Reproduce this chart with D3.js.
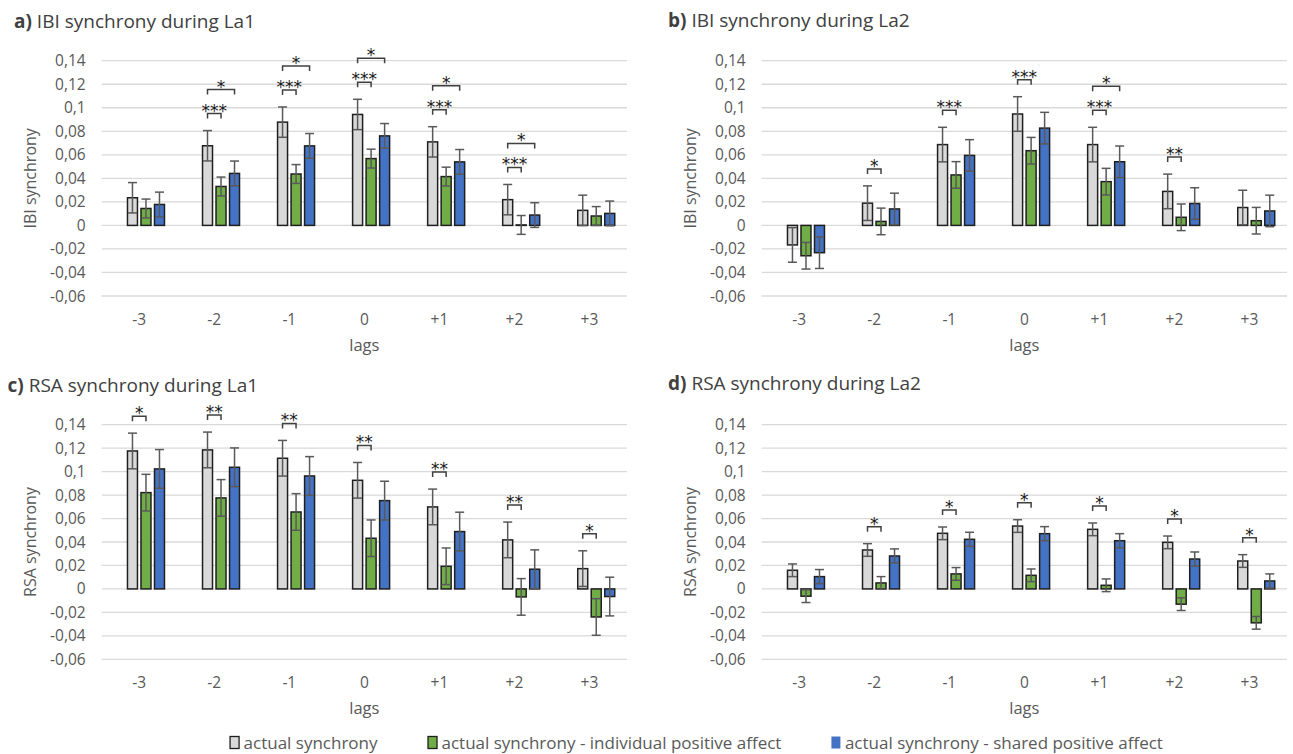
<!DOCTYPE html>
<html>
<head>
<meta charset="utf-8">
<script src="https://cdn.jsdelivr.net/npm/d3@7"></script>
<style>
  body { margin: 0; background: #fff; }
  svg { display: block; font-family: "Open Sans", "Noto Sans", sans-serif; }
</style>
</head>
<body>
<svg id="chart" width="1293" height="754"></svg>
<script>
// categories / ticks
const lags = ["-3", "-2", "-1", "0", "+1", "+2", "+3"];
const yTicks = [-0.06, -0.04, -0.02, 0, 0.02, 0.04, 0.06, 0.08, 0.1, 0.12, 0.14];
const seriesNames = ["actual synchrony", "actual synchrony - individual positive affect", "actual synchrony - shared positive affect"];
const seriesColors = ["#d9d9d9", "#70ad47", "#4472c4"];

// a) IBI synchrony during La1
const ibiLa1Actual = [0.0235, 0.0677, 0.0878, 0.0943, 0.0710, 0.0219, 0.0128];
const ibiLa1Indiv  = [0.0144, 0.0331, 0.0437, 0.0568, 0.0415, 0.0004, 0.0080];
const ibiLa1Shared = [0.0178, 0.0442, 0.0676, 0.0761, 0.0540, 0.0088, 0.0102];
const ibiLa1Err    = [0.0129, 0.0080, 0.0105];
const ibiLa1Sig = [
  ["-2", 1, "***"], ["-2", 2, "*"],
  ["-1", 1, "***"], ["-1", 2, "*"],
  ["0", 1, "***"], ["0", 2, "*"],
  ["+1", 1, "***"], ["+1", 2, "*"],
  ["+2", 1, "***"], ["+2", 2, "*"]
];

// b) IBI synchrony during La2
const ibiLa2Actual = [-0.0166, 0.0189, 0.0687, 0.0947, 0.0687, 0.0289, 0.0152];
const ibiLa2Indiv  = [-0.0258, 0.0034, 0.0429, 0.0635, 0.0372, 0.0069, 0.0040];
const ibiLa2Shared = [-0.0232, 0.0140, 0.0595, 0.0827, 0.0541, 0.0186, 0.0123];
const ibiLa2Err    = [0.0147, 0.0113, 0.0134];
const ibiLa2Sig = [
  ["-2", 1, "*"], ["-1", 1, "***"], ["0", 1, "***"],
  ["+1", 1, "***"], ["+1", 2, "*"], ["+2", 1, "**"]
];

// c) RSA synchrony during La1
const rsaLa1Actual = [0.1176, 0.1185, 0.1114, 0.0926, 0.0699, 0.0418, 0.0173];
const rsaLa1Indiv  = [0.0821, 0.0776, 0.0656, 0.0432, 0.0193, -0.0068, -0.0239];
const rsaLa1Shared = [0.1023, 0.1037, 0.0963, 0.0753, 0.0489, 0.0168, -0.0065];
const rsaLa1Err    = [0.0152, 0.0156, 0.0165];
const rsaLa1Sig = [
  ["-3", 1, "*"], ["-2", 1, "**"], ["-1", 1, "**"], ["0", 1, "**"],
  ["+1", 1, "**"], ["+2", 1, "**"], ["+3", 1, "*"]
];

// d) RSA synchrony during La2
const rsaLa2Actual = [0.0159, 0.0332, 0.0474, 0.0536, 0.0508, 0.0397, 0.0238];
const rsaLa2Indiv  = [-0.0062, 0.0051, 0.0128, 0.0116, 0.0031, -0.0130, -0.0289];
const rsaLa2Shared = [0.0105, 0.0281, 0.0423, 0.0471, 0.0411, 0.0255, 0.0068];
const rsaLa2Err    = [0.0054, 0.0054, 0.0060];
const rsaLa2Sig = [
  ["-2", 1, "*"], ["-1", 1, "*"], ["0", 1, "*"],
  ["+1", 1, "*"], ["+2", 1, "*"], ["+3", 1, "*"]
];

const svg = d3.select("#chart");
const fmt = v => (Math.round(v * 100) / 100).toString().replace(".", ",");

function drawPanel(p) {
  const g = svg.append("g");

  // title
  const t = g.append("text")
    .attr("x", p.titleX).attr("y", p.titleY)
    .attr("font-size", "19px").attr("fill", "#404040");
  t.append("tspan").attr("font-weight", "bold").text(p.letter + ")");
  t.append("tspan").text(" " + p.title);

  const x0 = d3.scaleBand()
    .domain(lags)
    .range([p.left, p.right])
    .paddingInner(0.307)
    .paddingOuter(0.1535);

  // 4 slots, first one stays empty (as in the original chart)
  const x1 = d3.scaleBand()
    .domain([0, 1, 2, 3])
    .range([0, x0.bandwidth()])
    .paddingInner(0.15);

  const y = d3.scaleLinear()
    .domain([-0.06, 0.14])
    .range([p.bottom, p.top]);

  // gridlines
  g.append("g").selectAll("line")
    .data(yTicks)
    .enter().append("line")
      .attr("x1", p.left).attr("x2", p.right)
      .attr("y1", d => y(d)).attr("y2", d => y(d))
      .attr("stroke", "#d9d9d9").attr("stroke-width", 1.3);

  // y axis labels
  g.append("g").selectAll("text")
    .data(yTicks)
    .enter().append("text")
      .attr("x", p.left - 16).attr("y", d => y(d) + 5.5)
      .attr("text-anchor", "end")
      .attr("font-size", "15.5px").attr("fill", "#595959")
      .text(d => fmt(d));

  // x category labels
  g.append("g").selectAll("text")
    .data(lags)
    .enter().append("text")
      .attr("x", d => x0(d) + x0.bandwidth() / 2).attr("y", p.bottom + 29)
      .attr("text-anchor", "middle")
      .attr("font-size", "15.5px").attr("fill", "#595959")
      .text(d => d);

  g.append("text")
    .attr("x", (p.left + p.right) / 2).attr("y", p.bottom + 55)
    .attr("text-anchor", "middle")
    .attr("font-size", "16.5px").attr("fill", "#595959")
    .text("lags");

  g.append("text")
    .attr("transform", `translate(${p.left - 66},${(p.top + p.bottom) / 2}) rotate(-90)`)
    .attr("text-anchor", "middle")
    .attr("font-size", "16px").attr("fill", "#595959")
    .text(p.yLabel);

  // bars
  const barW = x1.bandwidth();
  const bars = [];
  p.series.forEach((vals, si) => {
    vals.forEach((v, i) => {
      bars.push({ lag: lags[i], si, v, err: p.err[si] });
    });
  });

  g.append("g").selectAll("rect")
    .data(bars)
    .enter().append("rect")
      .attr("x", d => x0(d.lag) + x1(d.si + 1) + 0.75)
      .attr("y", d => Math.min(y(d.v), y(0)))
      .attr("width", barW - 1.5)
      .attr("height", d => Math.abs(y(d.v) - y(0)))
      .attr("fill", d => seriesColors[d.si])
      .attr("stroke", "#1f1f1f").attr("stroke-width", 1.5);

  // error bars
  const eb = g.append("g").attr("stroke", "#595959").attr("stroke-width", 1.5);
  bars.forEach(d => {
    const cx = x0(d.lag) + x1(d.si + 1) + barW / 2;
    const yHi = y(d.v + d.err), yLo = y(d.v - d.err);
    eb.append("line").attr("x1", cx).attr("x2", cx).attr("y1", yHi).attr("y2", yLo);
    eb.append("line").attr("x1", cx - 4.5).attr("x2", cx + 4.5).attr("y1", yHi).attr("y2", yHi);
    eb.append("line").attr("x1", cx - 4.5).attr("x2", cx + 4.5).attr("y1", yLo).attr("y2", yLo);
  });

  // significance brackets
  const sg = g.append("g");
  const levels = {};
  p.sig.forEach(([lag, si, label]) => {
    const i = lags.indexOf(lag);
    const cxA = x0(lag) + x1(1) + barW / 2;
    const cxB = x0(lag) + x1(si + 1) + barW / 2;
    let by;
    if (levels[lag] === undefined) {
      const topA = y(p.series[0][i] + p.err[0]);
      const topB = y(p.series[si][i] + p.err[si]);
      by = Math.min(topA, topB) - 17;
    } else {
      by = levels[lag] - 24;
    }
    levels[lag] = by;
    sg.append("path")
      .attr("d", `M${cxA},${by + 5}V${by}H${cxB}V${by + 5}`)
      .attr("fill", "none").attr("stroke", "#404040").attr("stroke-width", 1.5);
    sg.append("text")
      .attr("x", (cxA + cxB) / 2).attr("y", by + 3)
      .attr("text-anchor", "middle")
      .attr("font-family", "'DejaVu Sans', sans-serif")
      .attr("font-size", "17px").attr("fill", "#1a1a1a")
      .text(label);
  });
}

const panels = [
  { letter: "a", title: "IBI synchrony during La1", yLabel: "IBI synchrony",
    left: 101.7, right: 627, top: 60.7, bottom: 296, titleX: 14, titleY: 28,
    series: [ibiLa1Actual, ibiLa1Indiv, ibiLa1Shared], err: ibiLa1Err, sig: ibiLa1Sig },
  { letter: "b", title: "IBI synchrony during La2", yLabel: "IBI synchrony",
    left: 761.7, right: 1287, top: 60.7, bottom: 296, titleX: 668, titleY: 27,
    series: [ibiLa2Actual, ibiLa2Indiv, ibiLa2Shared], err: ibiLa2Err, sig: ibiLa2Sig },
  { letter: "c", title: "RSA synchrony during La1", yLabel: "RSA synchrony",
    left: 101.7, right: 627, top: 424.7, bottom: 659.3, titleX: 7.5, titleY: 391.5,
    series: [rsaLa1Actual, rsaLa1Indiv, rsaLa1Shared], err: rsaLa1Err, sig: rsaLa1Sig },
  { letter: "d", title: "RSA synchrony during La2", yLabel: "RSA synchrony",
    left: 761.7, right: 1287, top: 424.7, bottom: 659.3, titleX: 668, titleY: 390,
    series: [rsaLa2Actual, rsaLa2Indiv, rsaLa2Shared], err: rsaLa2Err, sig: rsaLa2Sig }
];
panels.forEach(drawPanel);

// legend
const legend = svg.append("g");
const items = legend.selectAll("g")
  .data(seriesNames)
  .enter().append("g");
items.append("rect")
  .attr("y", 736.5).attr("width", 9).attr("height", 12)
  .attr("fill", (d, i) => seriesColors[i])
  .attr("stroke", (d, i) => i === 2 ? "none" : "#1f1f1f").attr("stroke-width", 1.3);
items.append("text")
  .attr("x", 13.5).attr("y", 748.5)
  .attr("font-size", "17px").attr("fill", "#595959")
  .text(d => d);
let lx = 0;
const offsets = [];
items.each(function () {
  offsets.push(lx);
  lx += this.getBBox().width + 50;
});
const totalW = lx - 50;
const startX = 696.5 - totalW / 2;
items.attr("transform", (d, i) => `translate(${startX + offsets[i]},0)`);
</script>
</body>
</html>
